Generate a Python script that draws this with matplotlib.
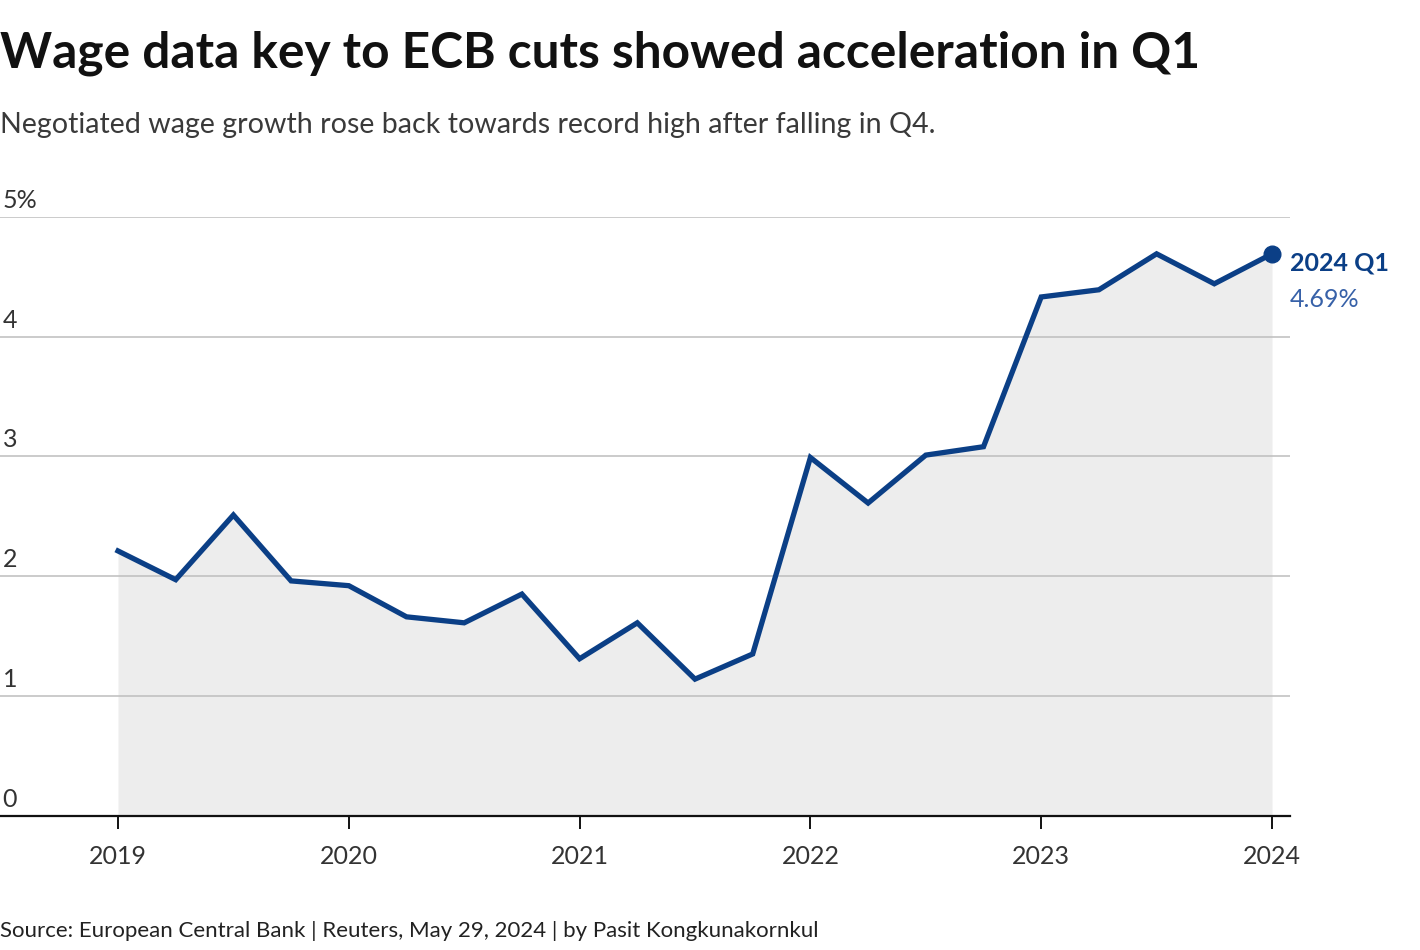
import matplotlib
matplotlib.use("Agg")
import matplotlib.pyplot as plt
import matplotlib.transforms as mtransforms
import numpy as np

plt.rcParams['font.family'] = ['Lato', 'DejaVu Sans']

# ---- data ----
quarters = ['2019 Q1', '2019 Q2', '2019 Q3', '2019 Q4',
            '2020 Q1', '2020 Q2', '2020 Q3', '2020 Q4',
            '2021 Q1', '2021 Q2', '2021 Q3', '2021 Q4',
            '2022 Q1', '2022 Q2', '2022 Q3', '2022 Q4',
            '2023 Q1', '2023 Q2', '2023 Q3', '2023 Q4',
            '2024 Q1']
wage_growth = [2.21, 1.97, 2.51, 1.96,
               1.92, 1.66, 1.61, 1.85,
               1.31, 1.61, 1.14, 1.35,
               2.99, 2.61, 3.01, 3.08,
               4.33, 4.39, 4.69, 4.44,
               4.69]
year_labels = ['2019', '2020', '2021', '2022', '2023', '2024']
y_ticks = [0, 1, 2, 3, 4, 5]
y_tick_labels = ['0', '1', '2', '3', '4', '5%']
last_label = '2024 Q1'
last_value_label = '4.69%'

W, H = 1420, 950
fig = plt.figure(figsize=(W / 100, H / 100), dpi=100)
fig.patch.set_facecolor('white')

def fx(px):
    return px / W

def fy(py):
    return 1 - py / H

ax_left, ax_right, ax_top, ax_bottom = 0, 1290, 216.7, 815.7
ax = fig.add_axes([fx(ax_left), fy(ax_bottom), fx(ax_right - ax_left), (ax_bottom - ax_top) / H])

x = np.arange(len(wage_growth))
line_color = '#0b3f86'
ax.fill_between(x, 0, wage_growth, color='#ededed', lw=0, zorder=1)
ax.plot(x, wage_growth, color=line_color, lw=3.8, solid_joinstyle='miter', zorder=3)
ax.plot(x[-1], wage_growth[-1], 'o', color=line_color, ms=12, zorder=4)

px_per_q = (1272 - 118) / 20
ax.set_xlim(-118 / px_per_q, 20 + (ax_right - 1272) / px_per_q)
ax.set_ylim(0, 5)

for s in ['top', 'right', 'left']:
    ax.spines[s].set_visible(False)
ax.spines['bottom'].set_color('#111111')
ax.spines['bottom'].set_linewidth(1.6)
ax.spines['bottom'].set_zorder(5)

ax.set_yticks(y_ticks)
ax.set_yticklabels([])
ax.tick_params(axis='y', length=0)
for t in y_ticks[1:]:
    ax.axhline(t, color='#bdbdbd', lw=1.1, zorder=2)

year_pos = [4 * i for i in range(len(year_labels))]
ax.set_xticks(year_pos)
ax.set_xticklabels([])
ax.tick_params(axis='x', length=9, width=1.4, color='#111111', direction='out')

# y labels, placed just above gridlines
ylab_tr = ax.get_yaxis_transform() + mtransforms.ScaledTranslation(0, 9 / 100, fig.dpi_scale_trans)
for t, lab in zip(y_ticks, y_tick_labels):
    ax.text(0.002, t, lab, transform=ylab_tr, ha='left', va='baseline',
            fontsize=18, color='#333333', zorder=6)

# x labels
xlab_tr = ax.get_xaxis_transform() + mtransforms.ScaledTranslation(0, -48 / 100, fig.dpi_scale_trans)
for p, lab in zip(year_pos, year_labels):
    ax.text(p, 0, lab, transform=xlab_tr, ha='center', va='baseline', fontsize=18, color='#333333')

# end annotation
ax.annotate(last_label, xy=(x[-1], wage_growth[-1]), xytext=(18, -17), textcoords='offset pixels',
            ha='left', va='baseline', fontsize=18, fontweight='bold', color='#0b3f86')
ax.annotate(last_value_label, xy=(x[-1], wage_growth[-1]), xytext=(18, -53), textcoords='offset pixels',
            ha='left', va='baseline', fontsize=18, color='#3761a8')

# titles
fig.text(fx(0), fy(67), 'Wage data key to ECB cuts showed acceleration in Q1',
         ha='left', va='baseline', fontsize=35.7, fontweight='bold', color='#111111')
fig.text(fx(0), fy(133), 'Negotiated wage growth rose back towards record high after falling in Q4.',
         ha='left', va='baseline', fontsize=20.6, fontweight='normal', color='#3a3a3a')
fig.text(fx(0), fy(937), 'Source: European Central Bank | Reuters, May 29, 2024 | by Pasit Kongkunakornkul',
         ha='left', va='baseline', fontsize=16.05, color='#222222')

fig.savefig('out.png', dpi=100, facecolor='white')
